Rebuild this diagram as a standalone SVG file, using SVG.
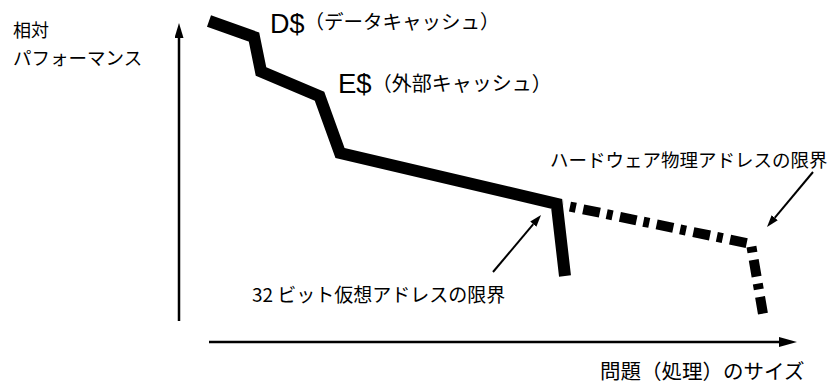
<svg xmlns="http://www.w3.org/2000/svg" width="832" height="384" viewBox="0 0 832 384">
<style>
.jp{font-family:"Noto Sans CJK JP","Liberation Sans",sans-serif;fill:#000}
.lat{font-family:"Liberation Sans",Arial,sans-serif}
.axis{stroke:#000;stroke-width:2.5;fill:none}
.ann{stroke:#000;stroke-width:2;fill:none}
.solid{stroke:#000;stroke-width:12;fill:none;stroke-linejoin:miter;stroke-linecap:butt}
.dash{stroke:#000;stroke-width:10;fill:none;stroke-linejoin:miter;stroke-linecap:butt;stroke-dasharray:17 7 6 7.5;stroke-dashoffset:16.9}
</style>
<defs>
<marker id="headAxisY" markerUnits="userSpaceOnUse" viewBox="0 0 15 9" refX="0" refY="4.5" markerWidth="15" markerHeight="9" orient="auto"><path d="M0,0 L15,4.5 L0,9 Z" fill="#000"/></marker>
<marker id="headAxisX" markerUnits="userSpaceOnUse" viewBox="0 0 18 10" refX="0" refY="5" markerWidth="18" markerHeight="10" orient="auto"><path d="M0,0 L18,5 L0,10 Z" fill="#000"/></marker>
<marker id="headAnn" markerUnits="userSpaceOnUse" viewBox="0 0 12 8" refX="0" refY="4" markerWidth="12" markerHeight="8" orient="auto"><path d="M0,0 L12,4 L0,8 Z" fill="#000"/></marker>
</defs>
<rect width="832" height="384" fill="#fff"/>
<g id="axes">
<line class="axis" x1="179" y1="321" x2="179" y2="38" marker-end="url(#headAxisY)"/>
<line class="axis" x1="209" y1="342" x2="779" y2="342" marker-end="url(#headAxisX)"/>
</g>
<g id="y-label">
<text class="jp" x="13" y="37" font-size="18">相対</text>
<text class="jp" x="13" y="65" font-size="18.5">パフォーマンス</text>
</g>
<g id="x-label">
<text class="jp" x="600" y="379" font-size="20.5">問題（処理）のサイズ</text>
</g>
<g id="curve">
<polyline class="solid" points="209,21 254,37 261,71.5 319.5,96.3 340,153 556.7,203.8 565,276"/>
<polyline class="dash" points="563,205.1 751,244 763,314"/>
</g>
<g id="d-cache">
<text class="jp" x="270" y="33" font-size="19.5"><tspan class="lat" font-size="27">D$</tspan><tspan dy="-4">（データキャッシュ）</tspan></text>
</g>
<g id="e-cache">
<text class="jp" x="338" y="93" font-size="20"><tspan class="lat" font-size="27.5">E$</tspan><tspan dy="-2.5">（外部キャッシュ）</tspan></text>
</g>
<g id="limit32">
<text class="jp" x="252" y="301.5" font-size="19">32 ビット仮想アドレスの限界</text>
</g>
<g id="limitHW">
<text class="jp" x="550" y="166.5" font-size="18.5">ハードウェア物理アドレスの限界</text>
</g>
<g id="connectors">
<line class="ann" x1="493" y1="272" x2="533.3" y2="224.2" marker-end="url(#headAnn)"/>
<line class="ann" x1="813" y1="172" x2="774.7" y2="217.8" marker-end="url(#headAnn)"/>
</g>
</svg>
